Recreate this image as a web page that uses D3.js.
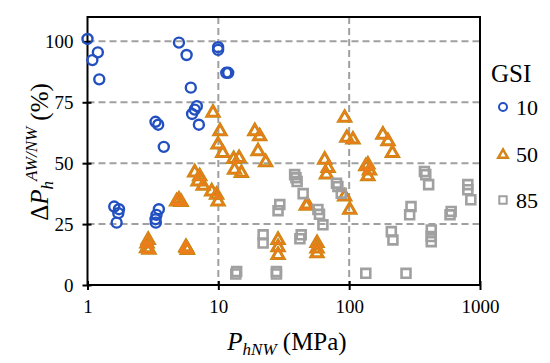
<!DOCTYPE html>
<html lang="en">
<head>
<meta charset="UTF-8">
<title>GSI scatter</title>
<style>
  body { margin: 0; background: #fff; }
  #chart text { font-family: "Times New Roman", Times, "Liberation Serif", "Nimbus Roman", "FreeSerif", "DejaVu Serif", serif; fill: #000; }
</style>
</head>
<body>
<svg id="chart" width="550" height="363"></svg>
<script src="https://d3js.org/d3.v7.min.js"></script>
<script>
// GSI = 10 (circles): [P_hNW MPa, dP %]
var gsi10 = [
  [1.0, 101], [1.2, 95.5], [1.09, 92.3], [1.23, 84.4],
  [5.0, 99.5], [5.72, 94.4], [9.96, 97.6], [9.96, 96.5],
  [11.5, 87.1], [11.9, 87.1], [6.16, 81], [6.85, 73.4],
  [6.6, 72], [6.3, 70.2], [7.1, 65.8], [3.31, 67],
  [3.47, 65.8], [3.83, 56.7],
  [1.60, 32.2], [1.74, 31.1], [1.72, 29.5], [1.67, 25.6],
  [3.51, 31.1], [3.37, 28.8], [3.31, 27], [3.33, 25.6]
];
// GSI = 50 (triangles)
var gsi50 = [
  [9.1, 70.7], [10.3, 63.1], [9.95, 57.6], [10.8, 54.2],
  [13.1, 51.7], [14.4, 52.1], [13.3, 47.3], [15.0, 46],
  [19.0, 63.1], [20.7, 61], [20.1, 54.9], [23.0, 50.4],
  [6.6, 46.2], [7.2, 44.6], [7.0, 42.5], [7.66, 40.7],
  [8.9, 38.4], [9.7, 37], [9.95, 34.3],
  [4.8, 34.3], [5.0, 35], [5.2, 34],
  [2.91, 18.5], [2.85, 17], [2.83, 15.1], [2.95, 14.5],
  [5.72, 15.1], [5.8, 14.3], [5.65, 15.5],
  [28.6, 18.5], [28.6, 15.5], [28.6, 12.3],
  [56.8, 17.2], [56.8, 15], [56.8, 13.0],
  [47, 32.5], [48, 33],
  [65, 51.4], [69, 48], [67, 45.3],
  [92.4, 68.6], [96, 60.4], [106.9, 59.7],
  [92.4, 36.3], [101, 30.9],
  [134, 48.7], [139, 49.4], [143, 47], [139, 44.6],
  [181, 61.7], [198, 59], [214, 54.2]
];
// GSI = 85 (squares)
var gsi85 = [
  [38.3, 45.3], [39.2, 44], [40, 42.5], [44.5, 37.5],
  [29.5, 33], [28.6, 30.5], [57.7, 31], [59.3, 29], [63, 24.7],
  [22, 20.6], [22, 17.2], [43, 20.6], [42, 19],
  [80, 41.8], [82, 40.4], [87, 37.7],
  [13.8, 5.5], [13.6, 4.5], [27.8, 5.5], [27.8, 4.5],
  [134, 4.8], [272, 4.8],
  [376, 46.6], [385, 45.3], [405, 41.2],
  [807, 41.2], [807, 39.1], [851, 35],
  [297, 32.2], [290, 28.8], [602, 30.2], [590, 28.8],
  [210, 21.9], [216, 18.5], [424, 22.6], [424, 19.9], [424, 17.8]
];
var xTicks = [1, 10, 100, 1000];
var yTicks = [0, 25, 50, 75, 100];
var legendLabels = ["10", "50", "85"];

var blue = "#2350c0", orange = "#f07c1c", olive = "#bc8a10", gray = "#a0a0a0";

var svg = d3.select("#chart");
var mLeft = 87.5, mRight = 480, mTop = 17, mBottom = 285;

var x = d3.scaleLog().domain([1, 1000]).range([mLeft, mRight]);
var y = d3.scaleLinear().domain([0, 110]).range([mBottom, mTop]);

// dashed grid
var grid = svg.append("g").attr("stroke", gray).attr("stroke-width", 2)
  .attr("stroke-dasharray", "7,4");
grid.selectAll("line.h").data([25, 50, 75, 100]).enter().append("line")
  .attr("x1", mLeft).attr("x2", mRight)
  .attr("y1", function(d) { return y(d); }).attr("y2", function(d) { return y(d); });
grid.selectAll("line.v").data([10, 100]).enter().append("line")
  .attr("y1", mTop).attr("y2", mBottom)
  .attr("x1", function(d) { return x(d); }).attr("x2", function(d) { return x(d); });

// frame
svg.append("rect").attr("x", mLeft).attr("y", mTop)
  .attr("width", mRight - mLeft).attr("height", mBottom - mTop)
  .attr("fill", "none").attr("stroke", "#000").attr("stroke-width", 2);

// axes
var xAxis = svg.append("g").attr("transform", "translate(0," + mBottom + ")")
  .call(d3.axisBottom(x).tickValues(xTicks).tickFormat(d3.format("d")).tickSize(5).tickPadding(10));
var yAxis = svg.append("g").attr("transform", "translate(" + mLeft + ",0)")
  .call(d3.axisLeft(y).tickValues(yTicks).tickSize(5).tickPadding(9));
[xAxis, yAxis].forEach(function(a) {
  a.select(".domain").remove();
  a.selectAll("line").attr("stroke", "#000").attr("stroke-width", 2);
  a.selectAll("text").attr("font-size", 19);
});
xAxis.selectAll("line").attr("y1", -4);
yAxis.selectAll("line").attr("x2", 4).attr("x1", -5);

// markers
var triangle = d3.symbol().type(d3.symbolTriangle).size(62);
var square = d3.symbol().type(d3.symbolSquare).size(80);

svg.append("g").selectAll("circle").data(gsi10).enter().append("circle")
  .attr("cx", function(d) { return x(d[0]); })
  .attr("cy", function(d) { return y(d[1]); })
  .attr("r", 5).attr("fill", "none").attr("stroke", blue).attr("stroke-width", 2.4);

var tri = svg.append("g");
tri.selectAll("path.out").data(gsi50).enter().append("path").attr("class", "out")
  .attr("d", triangle)
  .attr("transform", function(d) { return "translate(" + x(d[0]) + "," + y(d[1]) + ")"; })
  .attr("fill", "none").attr("stroke", olive).attr("stroke-width", 3);
tri.selectAll("path.in").data(gsi50).enter().append("path").attr("class", "in")
  .attr("d", triangle)
  .attr("transform", function(d) { return "translate(" + x(d[0]) + "," + y(d[1]) + ")"; })
  .attr("fill", "none").attr("stroke", orange).attr("stroke-width", 1.5);

svg.append("g").selectAll("path").data(gsi85).enter().append("path")
  .attr("d", square)
  .attr("transform", function(d) { return "translate(" + x(d[0]) + "," + y(d[1]) + ")"; })
  .attr("fill", "none").attr("stroke", gray).attr("stroke-width", 2.6);

// axis titles
var xl = svg.append("text").attr("x", 287).attr("y", 350).attr("text-anchor", "middle").attr("font-size", 25);
xl.append("tspan").attr("font-style", "italic").text("P");
xl.append("tspan").attr("font-style", "italic").attr("font-size", 17).attr("dy", 5).text("hNW");
xl.append("tspan").attr("dy", -5).text(" (MPa)");

var yl = svg.append("text").attr("transform", "translate(48,152) rotate(-90)")
  .attr("text-anchor", "middle").attr("font-size", 25);
yl.append("tspan").text("\u0394");
yl.append("tspan").attr("font-style", "italic").text("P");
yl.append("tspan").attr("font-style", "italic").attr("font-size", 17).attr("dy", 5).text("h");
yl.append("tspan").attr("font-style", "italic").attr("font-size", 17).attr("dy", -16).text("AW/NW");
yl.append("tspan").attr("dy", 11).text(" (%)");

// legend
svg.append("text").attr("x", 491).attr("y", 82).attr("font-size", 25).text("GSI");
var lg = svg.append("g");
var ly = [111, 158, 204];
lg.append("circle").attr("cx", 503).attr("cy", ly[0] - 4).attr("r", 4)
  .attr("fill", "none").attr("stroke", blue).attr("stroke-width", 2);
lg.append("path").attr("d", d3.symbol().type(d3.symbolTriangle).size(40))
  .attr("transform", "translate(503," + (ly[1] - 3) + ")")
  .attr("fill", "none").attr("stroke", olive).attr("stroke-width", 2.4);
lg.append("path").attr("d", d3.symbol().type(d3.symbolTriangle).size(40))
  .attr("transform", "translate(503," + (ly[1] - 3) + ")")
  .attr("fill", "none").attr("stroke", orange).attr("stroke-width", 1.1);
lg.append("path").attr("d", d3.symbol().type(d3.symbolSquare).size(55))
  .attr("transform", "translate(503," + (ly[2] - 4) + ")")
  .attr("fill", "none").attr("stroke", gray).attr("stroke-width", 2);
lg.selectAll("text").data(legendLabels).enter().append("text")
  .attr("x", 516).attr("y", function(d, i) { return ly[i] + 4; })
  .attr("font-size", 22).text(function(d) { return d; });
</script>
</body>
</html>
